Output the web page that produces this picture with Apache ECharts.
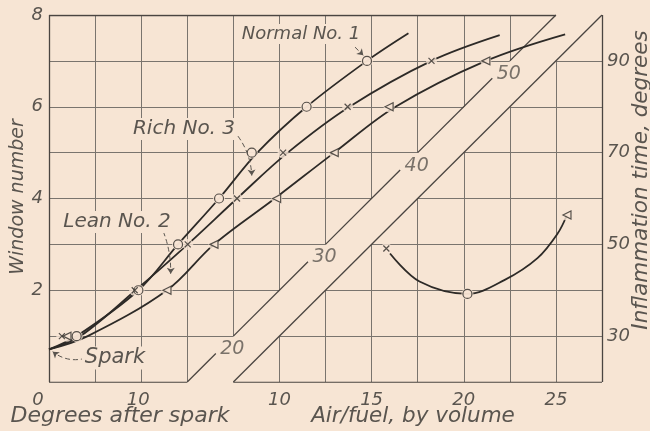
<!DOCTYPE html>
<html>
<head>
<meta charset="utf-8">
<script src="https://cdn.jsdelivr.net/npm/echarts@6/dist/echarts.min.js"></script>
<style>
  html, body { margin: 0; padding: 0; background: #f7e5d4; }
  #chart { width: 650px; height: 431px; }
</style>
</head>
<body>
<div id="chart"></div>
<script>
// ---- window number reached vs. degrees after spark ----
const SPARK = [0, 0.71];
const NORMAL_PTS = [[3.0, 1], [9.7, 2], [14.0, 3], [18.45, 4], [22.0, 5], [27.95, 6], [34.5, 7]];
const RICH_PTS   = [[1.4, 1], [9.3, 2], [15.05, 3], [20.4, 4], [25.4, 5], [32.4, 6], [41.5, 7]];
const LEAN_PTS   = [[1.95, 1], [12.8, 2], [17.9, 3], [24.7, 4], [30.95, 5], [36.9, 6], [47.4, 7]];

// faired curves through the observations
const NORMAL_CURVE = [SPARK, [3.0, 1], [9.7, 2], [14.0, 3], [18.45, 4], [22.6, 5], [27.95, 6], [34.5, 7], [39.0, 7.6]];
const RICH_CURVE   = [SPARK, [3.4, 1], [9.4, 2], [15.05, 3], [20.4, 4], [25.9, 5], [32.6, 6], [41.5, 7], [48.9, 7.56]];
const LEAN_CURVE   = [SPARK, [4.2, 1], [12.8, 2], [17.9, 3], [24.5, 4], [30.95, 5], [37.6, 6], [47.4, 7], [56.0, 7.58]];

// ---- inflammation time vs. air/fuel ratio ----
const AF_RICH   = [[15.8, 49.1]];
const AF_NORMAL = [[20.2, 39.2]];
const AF_LEAN   = [[25.6, 56.4]];
const AF_CURVE  = [[16.0, 48.0], [17.6, 41.9], [20.2, 39.2], [22.2, 42.2], [24.0, 47.0], [25.1, 52.4], [25.6, 56.4]];

// ---- tick labels ----
const WINDOW_TICKS = [2, 4, 6, 8];
const DEG_TICKS_BOTTOM = [10];
const DEG_TICKS_DIAG = [20, 30, 40, 50];
const AF_TICKS = [10, 15, 20, 25];
const INFL_TICKS = [30, 50, 70, 90];

// ---- scales ----
const DEG_MAX = 60, DEG_STEP = 5, WIN_MAX = 8;
// the air/fuel scale shares the plot width; its panel only starts at 7.5
const AF_MIN = -2.5, AF_MAX = 27.5, AF_STEP = 2.5;
const INFL_MIN = 20, INFL_MAX = 100, INFL_STEP = 10;
// the degree scale leaves the bottom edge at 15 deg and climbs one window per 5 deg
const STRIP_START = 15, STRIP_WIDTH = 5;
const diagLeft = w => STRIP_START + DEG_STEP * w;
const diagRight = w => STRIP_START + STRIP_WIDTH + DEG_STEP * w;

const PAPER = '#f7e5d4';
const INK = '#2d2a27';
const GRID = '#7a746e';
const FRAME = '#4a4541';
const TEXT = '#5a554f';
const FONT = "'DejaVu Sans', sans-serif";

// grid rulings, clipped to the two panels on either side of the strip
const gridSegs = [];
for (let d = DEG_STEP; d < diagLeft(WIN_MAX); d += DEG_STEP) {
  gridSegs.push([[d, Math.max(0, (d - STRIP_START) / DEG_STEP)], [d, WIN_MAX]]);
}
for (let w = 1; w < WIN_MAX; w++) gridSegs.push([[0, w], [diagLeft(w), w]]);
for (let d = diagRight(0) + DEG_STEP; d < DEG_MAX; d += DEG_STEP) {
  gridSegs.push([[d, 0], [d, (d - diagRight(0)) / DEG_STEP]]);
}
for (let w = 1; w < WIN_MAX; w++) gridSegs.push([[diagRight(w), w], [DEG_MAX, w]]);

// panel outlines
const frameSegs = [
  [[0, 0], [0, WIN_MAX]],
  [[0, WIN_MAX], [diagLeft(WIN_MAX), WIN_MAX]],
  [[0, 0], [STRIP_START, 0]],
  [[diagRight(0), 0], [DEG_MAX, 0]],
  [[DEG_MAX, 0], [DEG_MAX, WIN_MAX]],
  [[diagRight(0), 0], [diagRight(WIN_MAX), WIN_MAX]]
];
// left edge of the strip, broken where its degree numbers sit
const GAP = 0.38;
let wPrev = 0;
DEG_TICKS_DIAG.forEach(t => {
  const wt = (t - STRIP_START) / DEG_STEP;
  frameSegs.push([[diagLeft(wPrev), wPrev], [diagLeft(wt - GAP), wt - GAP]]);
  wPrev = wt;
});
frameSegs.push([[diagLeft(wPrev), wPrev], [diagLeft(WIN_MAX), WIN_MAX]]);

// dashed leaders from the captions to their curves
const LEADERS = [
  { coords: [[33.2, 7.30], [34.1, 7.12]], lineStyle: { curveness: 0 } },
  { coords: [[20.5, 5.36], [22.0, 4.50]], lineStyle: { curveness: 0.15 } },
  { coords: [[12.4, 3.28], [13.2, 2.36]], lineStyle: { curveness: 0.1 } },
  { coords: [[4.0, 0.52], [0.4, 0.66]], lineStyle: { curveness: 0.25 } }
];

const SYM_X = 'path://M0,0L10,10M10,0L0,10';
const SYM_TRI = 'path://M0,5L10,0L10,10Z';

function curve(name, data, xi, yi) {
  return {
    name, type: 'line', data, xAxisIndex: xi, yAxisIndex: yi,
    smooth: 0.35, symbol: 'none', silent: true, z: 3,
    lineStyle: { color: INK, width: 1.8 }
  };
}
function mask(data, size, xi, yi) {
  return {
    type: 'scatter', data, xAxisIndex: xi, yAxisIndex: yi, silent: true, z: 4,
    symbol: 'circle', symbolSize: size, itemStyle: { color: PAPER }
  };
}
function markers(name, data, symbol, size, xi, yi, fill) {
  return {
    name, type: 'scatter', data, xAxisIndex: xi, yAxisIndex: yi, silent: true, z: 5,
    symbol, symbolSize: size,
    itemStyle: { color: fill, borderColor: INK, borderWidth: 1.2 }
  };
}

const axisText = { fontFamily: FONT, fontStyle: 'italic', fontSize: 18, color: TEXT };
const txt = (size) => ({ fontFamily: FONT, fontStyle: 'italic', fontSize: size, fill: TEXT });

const option = {
  backgroundColor: PAPER,
  animation: false,
  grid: { left: 49, right: 48, top: 15, bottom: 49 },
  xAxis: [
    {
      type: 'value', min: 0, max: DEG_MAX, interval: DEG_STEP, position: 'bottom',
      axisLine: { show: false }, axisTick: { show: false }, splitLine: { show: false },
      axisLabel: {
        ...axisText, margin: 9,
        formatter: v => v === 0 ? '{z|0}' : (DEG_TICKS_BOTTOM.includes(v) ? '{t|' + v + '}' : ''),
        rich: { z: { ...axisText, padding: [0, 22, 0, 0] }, t: { ...axisText, padding: [0, 6, 0, 0] } }
      }
    },
    {
      type: 'value', min: AF_MIN, max: AF_MAX, interval: AF_STEP, position: 'bottom',
      axisLine: { show: false }, axisTick: { show: false }, splitLine: { show: false },
      axisLabel: { ...axisText, margin: 9, formatter: v => AF_TICKS.includes(v) ? String(v) : '' }
    }
  ],
  yAxis: [
    {
      type: 'value', min: 0, max: WIN_MAX, interval: 1, position: 'left',
      axisLine: { show: false }, axisTick: { show: false }, splitLine: { show: false },
      axisLabel: { ...axisText, margin: 6, padding: [4, 0, 0, 0], formatter: v => WINDOW_TICKS.includes(v) ? String(v) : '' }
    },
    {
      type: 'value', min: INFL_MIN, max: INFL_MAX, interval: INFL_STEP, position: 'right',
      axisLine: { show: false }, axisTick: { show: false }, splitLine: { show: false },
      axisLabel: { ...axisText, margin: 5, formatter: v => INFL_TICKS.includes(v) ? String(v) : '' }
    }
  ],
  series: [
    { type: 'lines', coordinateSystem: 'cartesian2d', xAxisIndex: 0, yAxisIndex: 0, silent: true, z: 1,
      data: gridSegs.map(c => ({ coords: c })), lineStyle: { color: GRID, width: 1, opacity: 1 } },
    { type: 'lines', coordinateSystem: 'cartesian2d', xAxisIndex: 0, yAxisIndex: 0, silent: true, z: 2,
      data: frameSegs.map(c => ({ coords: c })), lineStyle: { color: FRAME, width: 1.3, opacity: 1 } },

    curve('Normal No. 1', NORMAL_CURVE, 0, 0),
    curve('Rich No. 3', RICH_CURVE, 0, 0),
    curve('Lean No. 2', LEAN_CURVE, 0, 0),
    curve('Inflammation time', AF_CURVE, 1, 1),

    mask(NORMAL_PTS, 12, 0, 0), mask(RICH_PTS, 11, 0, 0), mask(LEAN_PTS, 11, 0, 0),
    mask(AF_RICH, 11, 1, 1), mask(AF_NORMAL, 12, 1, 1), mask(AF_LEAN, 11, 1, 1),

    markers('Normal', NORMAL_PTS, 'circle', 9, 0, 0, PAPER),
    markers('Rich', RICH_PTS, SYM_X, 6, 0, 0, 'none'),
    markers('Lean', LEAN_PTS, SYM_TRI, 8, 0, 0, PAPER),
    markers('Normal', AF_NORMAL, 'circle', 9, 1, 1, PAPER),
    markers('Rich', AF_RICH, SYM_X, 6, 1, 1, 'none'),
    markers('Lean', AF_LEAN, SYM_TRI, 8, 1, 1, PAPER),

    { type: 'lines', coordinateSystem: 'cartesian2d', xAxisIndex: 0, yAxisIndex: 0, silent: true, z: 6,
      data: LEADERS, symbol: ['none', 'arrow'], symbolSize: 6,
      lineStyle: { color: TEXT, width: 1, type: [5, 3], opacity: 1 } },

    // degree numbers carried up the strip
    { type: 'scatter', xAxisIndex: 0, yAxisIndex: 0, silent: true, z: 6,
      data: DEG_TICKS_DIAG.map(t => [t, (t - STRIP_START) / DEG_STEP]),
      symbolSize: 0,
      label: { show: true, position: 'inside', offset: [-1, 13], ...axisText, fontSize: 19,
               formatter: p => String(p.value[0]) } }
  ],
  graphic: [
    { type: 'text', z: 100, style: { text: 'Normal No. 1', x: 301, y: 34, align: 'center', verticalAlign: 'middle',
      ...txt(18), backgroundColor: PAPER, padding: [1, 2] } },
    { type: 'text', z: 100, style: { text: 'Rich No. 3', x: 184, y: 129, align: 'center', verticalAlign: 'middle',
      ...txt(20), backgroundColor: PAPER, padding: [1, 2] } },
    { type: 'text', z: 100, style: { text: 'Lean No. 2', x: 117, y: 222, align: 'center', verticalAlign: 'middle',
      ...txt(20), backgroundColor: PAPER, padding: [1, 2] } },
    { type: 'text', z: 100, style: { text: 'Spark', x: 115, y: 358, align: 'center', verticalAlign: 'middle',
      ...txt(21), backgroundColor: PAPER, padding: [1, 3] } },
    { type: 'text', z: 100, style: { text: 'Degrees after spark', x: 120, y: 416, align: 'center', verticalAlign: 'middle',
      ...txt(22) } },
    { type: 'text', z: 100, style: { text: 'Air/fuel, by volume', x: 413, y: 416, align: 'center', verticalAlign: 'middle',
      ...txt(21.5) } },
    { type: 'text', z: 100, x: 18, y: 197, rotation: Math.PI / 2, style: { text: 'Window number', x: 0, y: 0,
      align: 'center', verticalAlign: 'middle', ...txt(19) } },
    { type: 'text', z: 100, x: 641, y: 180, rotation: Math.PI / 2, style: { text: 'Inflammation time, degrees', x: 0, y: 0,
      align: 'center', verticalAlign: 'middle', ...txt(21.5) } }
  ]
};

const chart = echarts.init(document.getElementById('chart'));
chart.setOption(option);
</script>
</body>
</html>
